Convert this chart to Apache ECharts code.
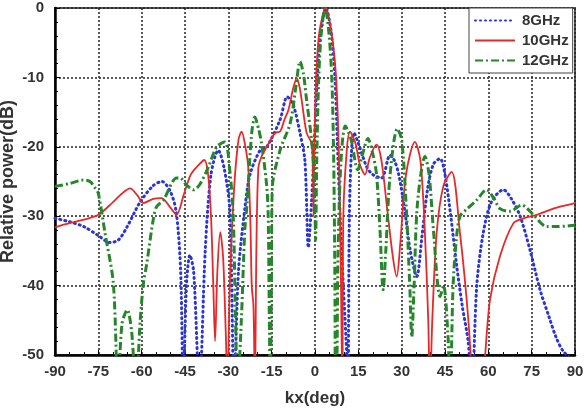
<!DOCTYPE html>
<html>
<head>
<meta charset="utf-8">
<script src="https://cdn.jsdelivr.net/npm/echarts@6/dist/echarts.min.js"></script>
<style>
  html, body { margin: 0; padding: 0; background: #fff; }
  #main { width: 584px; height: 412px; }
</style>
</head>
<body>
<div id="main"></div>
<script>
// axis ticks
const xTicks = [-90, -75, -60, -45, -30, -15, 0, 15, 30, 45, 60, 75, 90];
const yTicks = [-50, -40, -30, -20, -10, 0];

// 8GHz (blue dotted)
const ang8 = [-90, -85, -80, -75, -71, -68, -65, -60.6, -56, -53, -50, -48, -46.5, -45.6, -44.5, -43.3, -42, -40, -38, -36, -33.5, -31.5, -29.5, -28, -26.5, -24.2, -22.5, -19, -16.7, -12.1, -9.6, -7.5, -5.2, -3.5, -2.3, -1.2, -0.3, 0.8, 2, 3.8, 5.6, 6.9, 7.8, 8.7, 9.8, 11, 11.4, 11.9, 12.6, 13.5, 15, 17.9, 20, 23, 26, 27.5, 29, 31, 33, 35.2, 37, 39, 41, 43.3, 45, 47, 49, 51, 53, 54.3, 56, 58.2, 61, 65.2, 68, 71, 74.5, 77.9, 81, 83.5, 86, 90];
const pow8 = [-30.3, -30.8, -31.5, -32.8, -33.8, -33.4, -31.5, -28, -25.6, -25, -26.5, -29.5, -38, -55, -40, -35.6, -38, -55, -35, -24, -20.5, -23, -29, -55, -38, -28.6, -24, -20.5, -20, -16.1, -12.8, -14, -18, -22, -34.5, -28, -20, -10, -3.5, 0, -3.5, -10, -20, -30, -40, -50, -55, -30, -21, -18, -19.5, -22.9, -24, -24.5, -21.2, -22, -24, -29, -35, -38.7, -33, -26, -22.5, -21.7, -24, -30, -37, -43, -48, -55, -40, -32.5, -28, -26.2, -27.5, -30, -35, -40.6, -44.5, -47.5, -49.5, -51];

// 10GHz (red solid)
const ang10 = [-90, -85, -80, -75, -70, -67, -64, -61.5, -59.4, -56, -53.1, -50, -47.9, -45.5, -43, -40, -38.3, -37, -36, -35.2, -34.6, -33.8, -32.8, -31.8, -30.8, -30.3, -29.5, -28, -26.5, -25.4, -24.3, -23.1, -22.3, -21.9, -21.3, -20.8, -20.3, -19.6, -18.5, -16.7, -13.8, -12.1, -10.5, -9.2, -7.5, -6.3, -5.3, -4.6, -2.9, -1.2, -0.7, -0.5, -0.3, 0.4, 1.5, 3.7, 5.7, 7.3, 8.2, 8.7, 9.0, 9.3, 9.5, 9.8, 11, 12.1, 14, 15.5, 17.3, 19, 21.3, 23, 25, 27, 28.3, 29.5, 31.5, 34.6, 36.5, 38, 39.2, 39.8, 40.6, 42.1, 44.4, 47.3, 50.2, 52.5, 53.9, 55, 57, 58.9, 60.6, 64, 68.7, 72.2, 76.7, 82.5, 86, 90];
const pow10 = [-31.6, -31, -30.5, -29.8, -28, -26.8, -26, -27, -28.1, -27.5, -27.4, -28.8, -29.8, -27, -24, -22.5, -21.9, -24, -30, -40, -48, -38, -32.3, -36, -48, -55, -40, -26, -19, -17.8, -19.5, -23, -32, -40, -43, -55, -35, -23, -21.4, -20, -18, -17.8, -16, -14.7, -11.5, -10.1, -11.5, -13.3, -18, -19.5, -24, -30, -22, -10, -3.5, 0, -3.5, -10, -20, -30, -40, -50, -55, -30, -20.5, -17.8, -19.5, -22.5, -24, -21.5, -19.7, -22, -29, -36, -38.7, -34, -24, -19.3, -22, -32, -45, -55, -45, -32.5, -25.7, -23.6, -32.5, -42, -50, -60, -60, -50, -42, -35.8, -31, -30.3, -29.8, -28.9, -28.5, -28.1];

// 12GHz (green dash-dot)
const ang12 = [-90, -85, -80.2, -77.9, -76, -75, -72.7, -69.8, -68.2, -66.8, -65, -63.5, -62, -60.5, -59.4, -58.3, -56, -54.8, -52.5, -47.9, -46.7, -44.5, -42.1, -40, -37, -34, -31.2, -29.4, -28.3, -27.5, -26.8, -25.5, -24.3, -23.6, -21.9, -20.8, -19.5, -18.5, -16.7, -16.2, -15.8, -15.5, -15.1, -14.8, -12.1, -8.6, -6.5, -5.2, -4, -2.9, -1.2, -0.2, 0.2, 0.6, 1.3, 2.2, 3.5, 4.8, 5.8, 6.4, 6.7, 6.9, 7.1, 7.4, 8, 9, 10.5, 12.5, 14.8, 16.5, 18.3, 20, 21.3, 22.5, 23.6, 24.5, 26, 28.5, 30, 31.5, 32.8, 33.5, 34.3, 35.5, 38.1, 39.5, 41, 43.3, 44.5, 46, 46.8, 47.8, 49, 50.2, 52.5, 55.9, 59.4, 62, 64, 67.5, 71.5, 75.6, 80.2, 83.6, 90];
const pow12 = [-25.7, -25.3, -24.8, -25, -26, -26.7, -32.4, -39.7, -55, -45.5, -43.5, -46.5, -55, -45, -39.7, -37, -30.5, -28.6, -27.7, -24.5, -24.5, -25.5, -26.2, -25.5, -23, -20, -19.3, -23.8, -30, -45, -55, -45, -32, -28.6, -18, -15.7, -17.5, -19.5, -25.7, -30, -45, -55, -40, -26, -20.5, -16.6, -11, -7.7, -9.5, -13.3, -19, -25, -33.5, -22, -10, -3.5, 0, -3.5, -10, -20, -30, -40, -55, -55, -35, -22, -17, -19, -23.3, -21, -18.8, -21, -24, -32, -40.6, -35, -24, -17.4, -19, -28, -40, -47.4, -40, -28, -21.4, -24, -32, -41.6, -40, -47, -55, -40, -33, -30, -29, -27.7, -26.2, -27.5, -28.9, -29.3, -28.4, -29.8, -31.5, -31.5, -31.3];

const zip = (a, b) => a.map((v, i) => [v, b[i]]);

const chart = echarts.init(document.getElementById('main'), null, { renderer: 'canvas' });

const labelFont = {
  fontFamily: 'Liberation Sans, Arial, sans-serif',
  fontWeight: 'bold',
  fontSize: 15,
  color: '#333'
};

const option = {
  animation: false,
  backgroundColor: '#fff',
  grid: {
    left: 55, right: 9, top: 8, bottom: 57,
    outerBoundsMode: 'none',
    containLabel: false,
    show: true,
    borderColor: '#555',
    borderWidth: 2
  },
  legend: {
    orient: 'vertical',
    left: 469, top: 8,
    padding: [5, 4, 5, 5],
    itemGap: 5,
    itemWidth: 40,
    itemHeight: 10,
    backgroundColor: '#fff',
    borderColor: '#444',
    borderWidth: 1,
    itemStyle: { opacity: 0 },
    textStyle: Object.assign({}, labelFont, { fontSize: 15, padding: [0, 0, 0, 2] }),
    data: ['8GHz', '10GHz', '12GHz']
  },
  xAxis: {
    type: 'value',
    min: xTicks[0],
    max: xTicks[xTicks.length - 1],
    interval: 15,
    name: 'kx(deg)',
    nameLocation: 'middle',
    nameGap: 35,
    nameTextStyle: Object.assign({}, labelFont, { fontSize: 17 }),
    axisLine: { show: true, onZero: false, lineStyle: { color: '#000', width: 2.5 } },
    axisTick: { show: true, inside: true, length: 5, lineStyle: { color: '#000' } },
    minorTick: { show: true, splitNumber: 3, length: 3, lineStyle: { color: '#000' } },
    axisLabel: Object.assign({ margin: 9 }, labelFont),
    splitLine: { show: true, lineStyle: { color: '#222', type: [2, 2], width: 1.5 } }
  },
  yAxis: {
    type: 'value',
    min: yTicks[0],
    max: yTicks[yTicks.length - 1],
    interval: 10,
    name: 'Relative power(dB)',
    nameLocation: 'middle',
    nameGap: 38,
    nameMoveOverlap: false,
    nameTextStyle: Object.assign({}, labelFont, { fontSize: 18 }),
    axisLine: { show: true, onZero: false, lineStyle: { color: '#000', width: 2.5 } },
    axisTick: { show: true, inside: true, length: 5, lineStyle: { color: '#000' } },
    minorTick: { show: true, splitNumber: 5, length: 3, lineStyle: { color: '#000' } },
    axisLabel: Object.assign({ margin: 11 }, labelFont),
    splitLine: { show: true, lineStyle: { color: '#222', type: [2, 2], width: 1.5 } }
  },
  series: [
    {
      name: '8GHz', type: 'line', symbol: 'none', smooth: 0.3, clip: true,
      data: zip(ang8, pow8),
      itemStyle: { color: '#2a35d8' },
      lineStyle: { color: '#2a35d8', width: 3, type: [1, 4], cap: 'round' }
    },
    {
      name: '10GHz', type: 'line', symbol: 'none', smooth: 0.3, clip: true,
      data: zip(ang10, pow10),
      itemStyle: { color: '#e82828' },
      lineStyle: { color: '#e82828', width: 1.8 }
    },
    {
      name: '12GHz', type: 'line', symbol: 'none', smooth: 0.3, clip: true,
      data: zip(ang12, pow12),
      itemStyle: { color: '#26862a' },
      lineStyle: { color: '#26862a', width: 3, type: [8, 3, 2, 3] }
    }
  ]
};

chart.setOption(option);
</script>
</body>
</html>
